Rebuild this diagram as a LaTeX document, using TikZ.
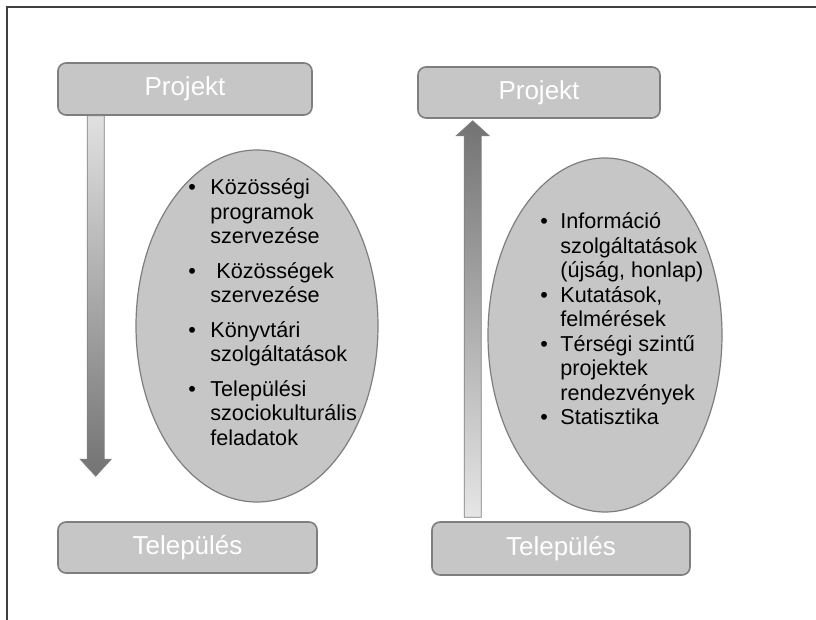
\documentclass[tikz,border=0pt]{standalone}
\usepackage{fontspec}
\setmainfont{Liberation Sans}
\usetikzlibrary{calc,shapes.geometric}
\definecolor{boxgray}{HTML}{C6C6C6}
\definecolor{edgegray}{HTML}{7E7E7E}
\tikzset{%
	titlebox/.style  = {draw=edgegray, fill=boxgray, line width=0.8pt, rounded corners=4pt, text=white, inner sep=0pt, font=\fontsize{13}{15}\selectfont}, % Projekt / Telepules
	oval/.style      = {draw=edgegray, fill=boxgray, ellipse, line width=0.6pt, inner sep=0pt}, % Ellipse
	itemlist/.style  = {anchor=north west, inner sep=0pt, font=\fontsize{10.8}{12.25}\selectfont}, % Bullet text
	downarrow/.style = {draw=gray, line width=0.4pt, top color=black!12, bottom color=black!55}, % Projekt -> Telepules
	uparrow/.style   = {draw=gray, line width=0.4pt, top color=black!55, bottom color=black!10}, % Telepules -> Projekt
}

\begin{document}
\begin{tikzpicture}[x=0.5pt,y=-0.5pt]
	\useasboundingbox (0,0) rectangle (816,620);
	\fill[white] (0,0) rectangle (816,620);
	\draw[line width=1pt, black!75] (6.5,620) -- (6.5,7.5) -- (816,7.5);

	% left half
	\node [titlebox, minimum width=127pt, minimum height=26pt] (proj1) at (185,89) {Projekt};
	\node [titlebox, minimum width=129.5pt, minimum height=25.5pt] (tel1) at (187.5,547.5) {Település};
	\node [oval, minimum width=121pt, minimum height=176pt] (ell1) at (257,326) {};
	\node [itemlist] (list1) at (188,177) {%
		\begin{tabular}{@{}p{11pt}@{}l@{}}
			\textbullet & Közösségi\\
			& programok\\
			& szervezése\\[5pt]
			\textbullet & \ Közösségek\\
			& szervezése\\[5pt]
			\textbullet & Könyvtári\\
			& szolgáltatások\\[5pt]
			\textbullet & Települési\\
			& szociokulturális\\
			& feladatok
		\end{tabular}};

	\path (proj1.south west) ++(38.5,0) coordinate (a1s);
	\path (tel1.north west) ++(38.5,-45) coordinate (a1e);
	\path[downarrow] ($(a1s)+(-8.5,0)$) -- ($(a1e)+(-8.5,-17)$) -- ($(a1e)+(-15.5,-17)$) -- (a1e)
		-- ($(a1e)+(15.5,-17)$) -- ($(a1e)+(8.5,-17)$) -- ($(a1s)+(8.5,0)$) -- cycle;

	% right half
	\node [titlebox, minimum width=121pt, minimum height=25.5pt] (proj2) at (539,92.5) {Projekt};
	\node [titlebox, minimum width=129pt, minimum height=26.5pt] (tel2) at (561,548.5) {Település};
	\node [oval, minimum width=117pt, minimum height=177pt] (ell2) at (605,335) {};
	\node [itemlist] (list2) at (540,211) {%
		\begin{tabular}{@{}p{10pt}@{}l@{}}
			\textbullet & Információ\\
			& szolgáltatások\\
			& (újság, honlap)\\
			\textbullet & Kutatások,\\
			& felmérések\\
			\textbullet & Térségi szintű\\
			& projektek\\
			& rendezvények\\
			\textbullet & Statisztika
		\end{tabular}};

	\path (tel2.north west) ++(41.5,-4) coordinate (a2s);
	\path (proj2.south west) ++(55.5,2) coordinate (a2e);
	\path[uparrow] ($(a2s)+(-8.5,0)$) -- ($(a2e)+(-8.5,15)$) -- ($(a2e)+(-16.5,15)$) -- (a2e)
		-- ($(a2e)+(16.5,15)$) -- ($(a2e)+(8.5,15)$) -- ($(a2s)+(8.5,0)$) -- cycle;
\end{tikzpicture}
\end{document}
